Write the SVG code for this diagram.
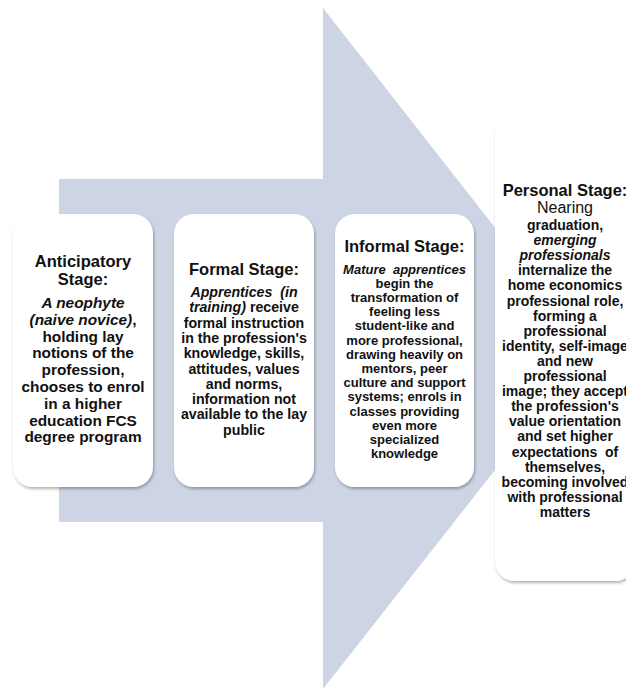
<svg xmlns="http://www.w3.org/2000/svg" width="626" height="689" viewBox="0 0 626 689">
<style>
text{font-family:"Liberation Sans",Arial,sans-serif;font-weight:bold;fill:#111;text-anchor:middle}
.t{font-size:16.5px}
.i{font-style:italic}
.r{font-weight:normal}
.box{fill:#fff;filter:url(#sh)}
</style>
<defs>
<filter id="sh" x="-10%" y="-10%" width="130%" height="130%">
<feDropShadow dx="1" dy="2" stdDeviation="1.5" flood-color="#000" flood-opacity="0.3"/>
</filter>
</defs>
<rect width="626" height="689" fill="#fff"/>
<g id="connectors">
<polygon points="59,179 323,179 323,8 590,349 323,689 323,522 59,522" fill="#cdd4e3"/>
</g>
<g id="anticipatory">
<rect class="box" x="13" y="214" width="140" height="273" rx="20"/>
<text class="t" x="83" y="267">Anticipatory</text>
<text class="t" x="83" y="285">Stage:</text>
<g style="font-size:15.4px">
<text x="83" y="308"><tspan class="i">A neophyte</tspan></text>
<text x="83" y="324.8"><tspan class="i">(naive novice)</tspan>,</text>
<text x="83" y="341.6">holding lay</text>
<text x="83" y="358.4">notions of the</text>
<text x="83" y="375.2">profession,</text>
<text x="83" y="392">chooses to enrol</text>
<text x="83" y="408.8">in a higher</text>
<text x="83" y="425.6">education FCS</text>
<text x="83" y="442.4">degree program</text>
</g>
</g>
<g id="formal">
<rect class="box" x="174" y="214" width="140" height="273" rx="20"/>
<text class="t" x="244" y="275">Formal Stage:</text>
<g style="font-size:14.2px">
<text x="244" y="297" xml:space="preserve"><tspan class="i">Apprentices  (in</tspan></text>
<text x="244" y="312.3"><tspan class="i">training)</tspan> receive</text>
<text x="244" y="327.6">formal instruction</text>
<text x="244" y="342.9">in the profession's</text>
<text x="244" y="358.2">knowledge, skills,</text>
<text x="244" y="373.5">attitudes, values</text>
<text x="244" y="388.8">and norms,</text>
<text x="244" y="404.1">information not</text>
<text x="244" y="419.4">available to the lay</text>
<text x="244" y="434.7">public</text>
</g>
</g>
<g id="informal">
<rect class="box" x="335" y="214" width="139" height="273" rx="20"/>
<text class="t" x="404.5" y="252">Informal Stage:</text>
<g style="font-size:13px">
<text x="404.5" y="273.5" xml:space="preserve"><tspan class="i">Mature  apprentices</tspan></text>
<text x="404.5" y="287.7">begin the</text>
<text x="404.5" y="301.9">transformation of</text>
<text x="404.5" y="316.1">feeling less</text>
<text x="404.5" y="330.3">student-like and</text>
<text x="404.5" y="344.5">more professional,</text>
<text x="404.5" y="358.7">drawing heavily on</text>
<text x="404.5" y="372.9">mentors, peer</text>
<text x="404.5" y="387.1">culture and support</text>
<text x="404.5" y="401.3">systems; enrols in</text>
<text x="404.5" y="415.5">classes providing</text>
<text x="404.5" y="429.7">even more</text>
<text x="404.5" y="443.9">specialized</text>
<text x="404.5" y="458.1">knowledge</text>
</g>
</g>
<g id="personal">
<rect class="box" x="495" y="117" width="140" height="464" rx="20"/>
<text class="t" x="565" y="195.5">Personal Stage:</text>
<text class="r" x="565" y="212.5" style="font-size:16px">Nearing</text>
<g style="font-size:14px">
<text x="565" y="230">graduation,</text>
<text x="565" y="245.1"><tspan class="i">emerging</tspan></text>
<text x="565" y="260.2"><tspan class="i">professionals</tspan></text>
<text x="565" y="275.3">internalize the</text>
<text x="565" y="290.4">home economics</text>
<text x="565" y="305.5">professional role,</text>
<text x="565" y="320.6">forming a</text>
<text x="565" y="335.7">professional</text>
<text x="565" y="350.8">identity, self-image</text>
<text x="565" y="365.9">and new</text>
<text x="565" y="381">professional</text>
<text x="565" y="396.1">image; they accept</text>
<text x="565" y="411.2">the profession's</text>
<text x="565" y="426.3">value orientation</text>
<text x="565" y="441.4">and set higher</text>
<text x="565" y="456.5" xml:space="preserve">expectations  of</text>
<text x="565" y="471.6">themselves,</text>
<text x="565" y="486.7">becoming involved</text>
<text x="565" y="501.8">with professional</text>
<text x="565" y="516.9">matters</text>
</g>
</g>
</svg>
